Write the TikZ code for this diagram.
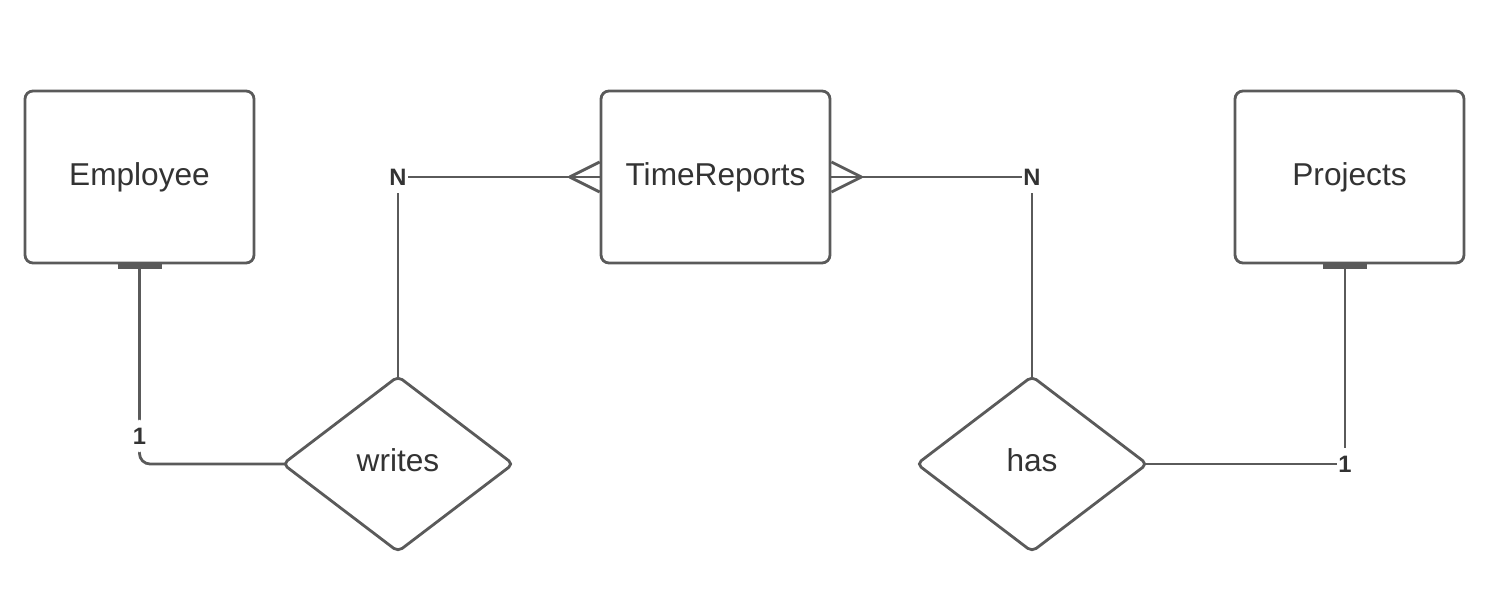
\documentclass[tikz,border=0pt]{standalone}
\usepackage{fontspec}
\setmainfont{Liberation Sans}
\usepackage{xcolor}
\usetikzlibrary{shapes.geometric,calc}
\definecolor{ln}{HTML}{5A5A5A}
\definecolor{txt}{HTML}{333333}

\begin{document}
\begin{tikzpicture}[x=0.02cm,y=-0.02cm,color=ln,line width=1.6pt,
  ent/.style={draw,rounded corners=4.5pt,minimum width=4.58cm,minimum height=3.44cm,
    text=txt,font=\fontsize{18}{22}\selectfont},
  rel/.style={draw,diamond,rounded corners=3pt,minimum width=4.56cm,minimum height=3.46cm,
    inner sep=0pt,outer sep=-1.5pt,text depth=4.5pt,text=txt,font=\fontsize{18}{22}\selectfont},
  card/.style={fill=white,inner xsep=1pt,inner ysep=4.5pt,text=txt,
    font=\fontsize{13.5}{16}\selectfont\bfseries}]
\useasboundingbox (0,0) rectangle (1493,615);
\node[ent](emp) at (139.5,177){Employee};
\node[ent](tr) at (715.5,177){TimeReports};
\node[ent](prj) at (1349.5,177){Projects};
\node[rel](wr) at (398,464){writes};
\node[rel](hs) at (1032,464){has};
\coordinate (pj) at ($(prj.south)+(-4.5,0)$);
% Employee 1 -- writes
\draw[rounded corners=6pt] (emp.south) |- (wr.west) node[pos=.43,card]{1};
\draw[line width=2.6pt] ($(emp.south)+(-22,2)$) -- ($(emp.south)+(22,2)$);
% writes -- N TimeReports
\draw (wr.north) |- (tr.west) node[pos=.5,card]{N};
\draw ($(tr.west)+(-30,0)$) -- ($(tr.west)+(0,-15)$);
\draw ($(tr.west)+(-30,0)$) -- ($(tr.west)+(0,15)$);
% TimeReports N -- has
\draw (tr.east) -| (hs.north) node[pos=.5,card]{N};
\draw ($(tr.east)+(30,0)$) -- ($(tr.east)+(0,-15)$);
\draw ($(tr.east)+(30,0)$) -- ($(tr.east)+(0,15)$);
% has -- 1 Projects
\draw (hs.east) -| (pj) node[pos=.5,card]{1};
\draw[line width=2.6pt] ($(pj)+(-22,2)$) -- ($(pj)+(22,2)$);
\end{tikzpicture}
\end{document}
